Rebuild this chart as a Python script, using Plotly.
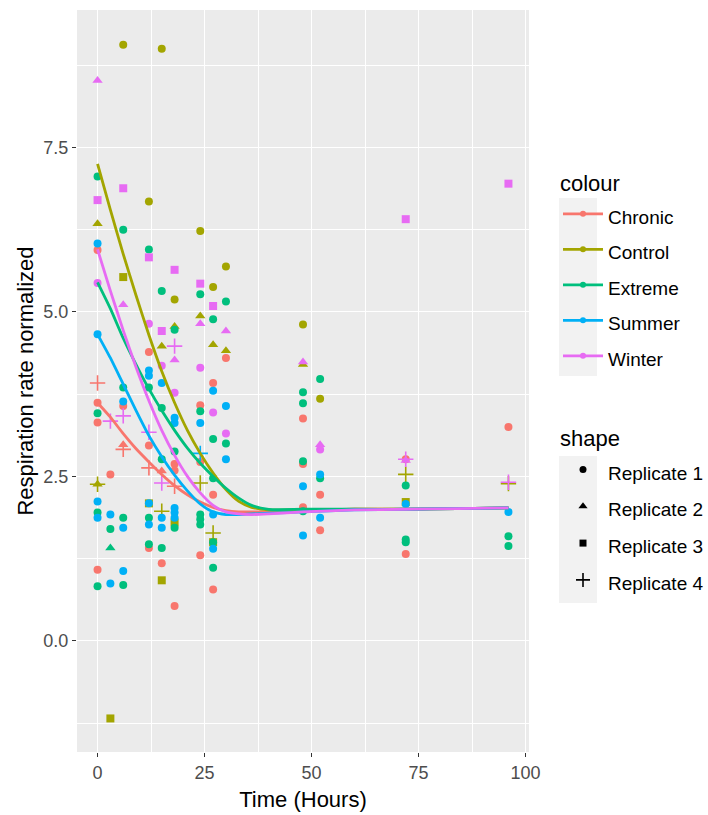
import plotly.graph_objects as go

# ---- observations: time (h), normalized respiration rate, replicate id ----
chronic_time = [0, 0, 0, 0, 3, 6, 12, 12, 12, 15, 18, 18, 18, 24, 24, 24, 27, 27, 27, 30,
                48, 48, 48, 52, 52, 72, 72, 96,
                6, 15,
                0, 6, 12, 18]
chronic_resp = [5.94, 3.62, 3.32, 1.08, 2.53, 3.57, 4.39, 2.97, 1.41, 1.18, 2.69, 2.59, 0.53,
                3.58, 2.72, 1.30, 3.92, 2.22, 0.78, 4.30,
                3.38, 2.69, 2.03, 2.22, 1.68, 2.76, 1.32, 3.25,
                2.98, 2.58,
                3.92, 2.91, 2.63, 2.35]
chronic_rep = [1] * 28 + [2] * 2 + [4] * 4

control_time = [6, 15, 12, 24, 30, 27, 18, 48, 52,
                0, 24, 18, 15, 27, 30, 0, 48,
                6, 3, 12, 18, 15, 27, 72,
                0, 15, 24, 27, 72, 96]
control_resp = [9.06, 9.00, 6.68, 6.23, 5.69, 5.38, 5.19, 4.81, 3.68,
                6.34, 4.94, 4.78, 4.48, 4.50, 4.41, 2.38, 4.20,
                5.53, -1.18, 2.09, 1.80, 0.92, 1.50, 2.11,
                2.38, 1.97, 2.40, 1.64, 2.53, 2.39]
control_rep = [1] * 9 + [2] * 8 + [3] * 7 + [4] * 6

extreme_time = [0, 6, 12, 15, 24, 30, 27, 18, 12, 6, 15, 24, 27, 30, 18, 15, 0, 0, 6, 3,
                12, 12, 15, 18, 24, 24, 24, 27, 27, 27, 0, 6,
                48, 48, 48, 48, 52, 52, 72, 72, 72, 96, 96,
                3]
extreme_resp = [7.06, 6.25, 5.95, 5.32, 5.27, 5.16, 4.89, 4.73, 3.85, 3.85, 3.54, 3.49, 3.07,
                3.00, 2.88, 2.76, 3.46, 1.95, 1.87, 1.70,
                1.87, 1.47, 1.41, 1.72, 1.92, 1.85, 1.77, 2.47, 1.50, 1.11, 0.83, 0.85,
                3.78, 3.61, 2.73, 1.97, 3.98, 2.47, 2.36, 1.54, 1.50, 1.59, 1.44,
                1.41]
extreme_rep = [1] * 43 + [2]

summer_time = [0, 0, 12, 12, 15, 27, 6, 30, 18, 18, 24, 30, 0, 0, 3, 6, 12, 12, 15, 15,
               18, 18, 18, 27, 27, 6, 3, 48, 48, 52, 52, 72, 96,
               24]
summer_resp = [6.04, 4.66, 4.11, 4.03, 3.92, 3.80, 3.64, 3.57, 3.39, 3.31, 3.31, 2.76, 2.12,
               1.87, 1.92, 1.72, 2.09, 1.77, 1.87, 1.72,
               2.02, 1.95, 1.87, 1.92, 1.40, 1.06, 0.87, 2.35, 1.60, 2.53, 1.87, 2.08, 1.96,
               2.85]
summer_rep = [1] * 33 + [4]

winter_time = [0, 12, 15, 24, 18, 27, 30, 52,
               0, 6, 24, 30, 18, 48, 52, 72,
               0, 6, 12, 18, 24, 27, 15, 72, 96,
               18, 3, 6, 12, 15, 72, 96]
winter_resp = [5.44, 4.82, 4.18, 4.15, 3.77, 3.47, 3.15, 2.91,
               8.52, 5.11, 4.82, 4.71, 4.27, 4.24, 2.98, 2.74,
               6.70, 6.88, 5.83, 5.64, 5.43, 5.09, 4.71, 6.41, 6.95,
               4.48, 3.34, 3.42, 3.17, 2.40, 2.76, 2.41]
winter_rep = [1] * 8 + [2] * 8 + [3] * 9 + [4] * 7

# ---- smoothed trend per treatment ----
fit_time = [0, 3, 6, 9, 12, 15, 18, 21, 24, 27, 30, 33, 36, 40, 48, 60, 72, 84, 96]
chronic_fit = [3.62, 3.40, 3.15, 2.92, 2.72, 2.53, 2.36, 2.22, 2.11, 2.03, 1.98, 1.96, 1.96,
               1.96, 1.98, 2.00, 2.00, 2.01, 2.02]
control_fit = [7.25, 6.55, 5.88, 5.25, 4.65, 4.10, 3.62, 3.20, 2.85, 2.55, 2.30, 2.12, 2.03,
               1.99, 1.99, 2.00, 2.00, 2.01, 2.02]
extreme_fit = [5.45, 5.05, 4.60, 4.20, 3.83, 3.50, 3.20, 2.93, 2.70, 2.50, 2.32, 2.17, 2.06,
               2.00, 2.00, 2.00, 2.00, 2.01, 2.02]
summer_fit = [4.66, 4.30, 3.90, 3.50, 3.12, 2.80, 2.52, 2.28, 2.08, 1.96, 1.92, 1.92, 1.93,
              1.94, 1.96, 1.99, 2.00, 2.01, 2.02]
winter_fit = [5.95, 5.32, 4.72, 4.16, 3.65, 3.20, 2.82, 2.50, 2.25, 2.06, 1.96, 1.93, 1.92,
              1.93, 1.96, 1.99, 2.00, 2.01, 2.02]

treatments = ["Chronic", "Control", "Extreme", "Summer", "Winter"]
colours = ["#F8766D", "#A3A500", "#00BF7D", "#00B0F6", "#E76BF3"]
replicates = ["Replicate 1", "Replicate 2", "Replicate 3", "Replicate 4"]

series = {
    "Chronic": (chronic_time, chronic_resp, chronic_rep, chronic_fit),
    "Control": (control_time, control_resp, control_rep, control_fit),
    "Extreme": (extreme_time, extreme_resp, extreme_rep, extreme_fit),
    "Summer": (summer_time, summer_resp, summer_rep, summer_fit),
    "Winter": (winter_time, winter_resp, winter_rep, winter_fit),
}

symbols = {1: "circle", 2: "triangle-up", 3: "square", 4: "cross-thin"}
sizes = {1: 8, 2: 9, 3: 8, 4: 11}

FONT = "Liberation Sans, Arial, sans-serif"
fig = go.Figure()

# points
for name, col in zip(treatments, colours):
    t, r, rep, _ = series[name]
    for k in (1, 2, 3, 4):
        xs = [a for a, b in zip(t, rep) if b == k]
        ys = [a for a, b in zip(r, rep) if b == k]
        if not xs:
            continue
        plus = k == 4
        fig.add_trace(go.Scatter(
            x=xs, y=ys, mode="markers", showlegend=False, hoverinfo="skip",
            marker=dict(symbol=symbols[k], size=sizes[k], color=col,
                        line=dict(color=col, width=1.6 if plus else 0)),
        ))

# trend lines
for name, col in zip(treatments, colours):
    fit = series[name][3]
    fig.add_trace(go.Scatter(
        x=fit_time, y=fit, mode="lines", showlegend=False, hoverinfo="skip",
        line=dict(color=col, width=2.8, shape="spline", smoothing=0.6),
    ))

# legend entries
for name, col in zip(treatments, colours):
    fig.add_trace(go.Scatter(
        x=[None], y=[None], mode="lines+markers", legend="legend",
        name=f"<span style='font-size:19px'>{name}</span>",
        line=dict(color=col, width=2.6), marker=dict(color=col, size=6),
    ))
for k, rname in zip((1, 2, 3, 4), replicates):
    fig.add_trace(go.Scatter(
        x=[None], y=[None], mode="markers", legend="legend2",
        name=f"<span style='font-size:19px'>{rname}</span>",
        marker=dict(symbol=symbols[k], size=sizes[k] - 1, color="black",
                    line=dict(color="black", width=1.6 if k == 4 else 0)),
    ))

L, R, T, B = 77, 179, 10, 63
W, H = 708, 815
pw, ph = W - L - R, H - T - B


def px_x(p):
    return (p - L) / pw


def px_y(p):
    return (H - B - p) / ph


shapes = [
    dict(type="rect", xref="paper", yref="paper", x0=px_x(559), x1=px_x(597),
         y0=px_y(376), y1=px_y(198), fillcolor="#F2F2F2", line=dict(width=0), layer="below"),
    dict(type="rect", xref="paper", yref="paper", x0=px_x(559), x1=px_x(597),
         y0=px_y(603), y1=px_y(456), fillcolor="#F2F2F2", line=dict(width=0), layer="below"),
]

axis_common = dict(
    showgrid=True, gridcolor="white", gridwidth=1.3, zeroline=False, showline=False,
    ticks="outside", ticklen=4, tickwidth=1, tickcolor="#333333",
    tickfont=dict(family=FONT, size=18, color="#4D4D4D"),
)

fig.update_layout(
    width=W, height=H, margin=dict(l=L, r=R, t=T, b=B, autoexpand=False),
    paper_bgcolor="white", plot_bgcolor="#EBEBEB",
    font=dict(family=FONT, color="black"),
    xaxis=dict(axis_common, range=[-4.8, 100.8], tickvals=[0, 25, 50, 75, 100],
               minor=dict(tickvals=[12.5, 37.5, 62.5, 87.5], showgrid=True,
                          gridcolor="white", gridwidth=0.6, ticks=""),
               title=dict(text="Time (Hours)", font=dict(family=FONT, size=22, color="black"),
                          standoff=10)),
    yaxis=dict(axis_common, range=[-1.69, 9.59], tickvals=[0, 2.5, 5, 7.5],
               tickformat=".1f",
               minor=dict(tickvals=[-1.25, 1.25, 3.75, 6.25, 8.75], showgrid=True,
                          gridcolor="white", gridwidth=0.6, ticks=""),
               title=dict(text="Respiration rate normalized",
                          font=dict(family=FONT, size=22, color="black"), standoff=3)),
    legend=dict(
        title=dict(text="<span style='font-size:22px'>colour</span>",
                   font=dict(family=FONT, size=27, color="black")),
        xref="container", yref="container",
        x=558 / W, y=1 - 156 / H, xanchor="left", yanchor="top",
        font=dict(family=FONT, size=25, color="black"), itemwidth=40,
        bgcolor="rgba(0,0,0,0)", tracegroupgap=0,
    ),
    legend2=dict(
        title=dict(text="<span style='font-size:22px'>shape</span>",
                   font=dict(family=FONT, size=27, color="black")),
        xref="container", yref="container",
        x=558 / W, y=1 - 411 / H, xanchor="left", yanchor="top",
        font=dict(family=FONT, size=26, color="black"), itemwidth=40,
        bgcolor="rgba(0,0,0,0)", tracegroupgap=0,
    ),
    shapes=shapes,
)

fig.write_html("out.html")
